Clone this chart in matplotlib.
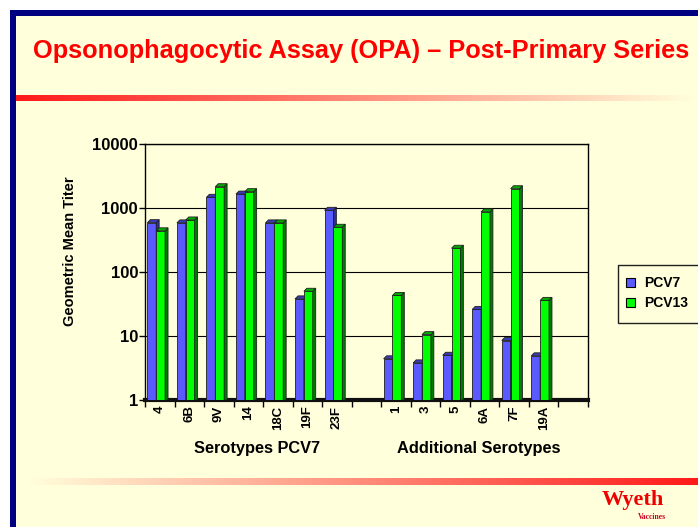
import numpy as np
import matplotlib
matplotlib.use('Agg')
import matplotlib.pyplot as plt
from matplotlib.patches import Polygon, Rectangle

# data (geometric mean titers)
serotypes = ['4', '6B', '9V', '14', '18C', '19F', '23F', '',
             '1', '3', '5', '6A', '7F', '19A', '']
pcv7 = [590, 585, 1470, 1650, 585, 38, 920, None,
        4.4, 3.8, 5.0, 26, 8.5, 4.9, None]
pcv13 = [440, 650, 2150, 1800, 585, 50, 500, None,
         43, 10.5, 235, 870, 2000, 36, None]
group_labels = ['Serotypes PCV7', 'Additional Serotypes']

W, H = 698, 527
bg = '#FFFFDC'
navy = '#000080'

plt.rcParams['font.family'] = ['Liberation Sans', 'DejaVu Sans']
fig = plt.figure(figsize=(W / 100, H / 100), dpi=100)
fig.patch.set_facecolor('white')

# slide background + navy frame
fig.patches.append(Rectangle((10 / W, 0), 1, 1 - 10 / H, transform=fig.transFigure,
                             facecolor=navy, edgecolor='none', zorder=-10))
fig.patches.append(Rectangle((16 / W, 0), 1, 1 - 16 / H, transform=fig.transFigure,
                             facecolor=bg, edgecolor='none', zorder=-9))

fig.text(0.518, 1 - 51 / H, 'Opsonophagocytic Assay (OPA) \u2013 Post-Primary Series',
         color='#FF0000', fontsize=18.3, fontweight='bold', ha='center', va='center')

# gradient bars
def grad_bar(x0, x1, y0, y1, reverse=False):
    gax = fig.add_axes([x0 / W, 1 - y1 / H, (x1 - x0) / W, (y1 - y0) / H])
    t = np.linspace(0, 1, 256)
    if reverse:
        t = t[::-1]
    start = np.array([1.0, 0.1, 0.1])
    end = np.array([1.0, 1.0, 0.86])
    cols = start[None, :] * (1 - t[:, None]) + end[None, :] * t[:, None]
    gax.imshow(cols[None, :, :], aspect='auto', extent=[0, 1, 0, 1])
    gax.axis('off')

grad_bar(16, 698, 95, 101)
grad_bar(27, 698, 478, 485, reverse=True)

# chart
ax = fig.add_axes([145 / W, 1 - 400 / H, (588 - 145) / W, (400 - 144) / H])
ax.set_facecolor(bg)
ax.set_yscale('log')
ax.set_ylim(1, 10000)
n = len(serotypes)
ax.set_xlim(0, n)
x = np.arange(n) + 0.5

bw = 0.30
dx = 0.10
k = 10 ** (3 / 63.8)

def bar3d(xl, v, front, side, top):
    xr = xl + bw
    ax.add_patch(Polygon([(xl, 1), (xr, 1), (xr, v), (xl, v)], closed=True,
                         facecolor=front, edgecolor='#202020', lw=0.6, zorder=3))
    ax.add_patch(Polygon([(xr, 1), (xr + dx, 1), (xr + dx, v * k), (xr, v)], closed=True,
                         facecolor=side, edgecolor='#202020', lw=0.6, zorder=3))
    ax.add_patch(Polygon([(xl, v), (xr, v), (xr + dx, v * k), (xl + dx, v * k)], closed=True,
                         facecolor=top, edgecolor='#202020', lw=0.6, zorder=3))

for xi, a, b in zip(x, pcv7, pcv13):
    if a is not None:
        bar3d(xi - 0.42, a, '#5A5AFF', '#2E2E99', '#3A3AB8')
    if b is not None:
        bar3d(xi - 0.12, b, '#00FF00', '#007A00', '#00A800')

ax.set_yticks([1, 10, 100, 1000, 10000])
ax.set_yticklabels(['1', '10', '100', '1000', '10000'], fontsize=12, fontweight='bold')
ax.yaxis.set_minor_locator(matplotlib.ticker.NullLocator())
ax.grid(axis='y', which='major', color='black', lw=0.8, zorder=1)
ax.tick_params(axis='y', length=4, width=1, pad=1)

ax.set_xticks(x)
ax.set_xticklabels(serotypes, rotation=90, fontsize=9.5, fontweight='bold')
ax.tick_params(axis='x', length=0, pad=4)
ax.set_xticks(np.arange(n + 1), minor=True)
ax.tick_params(axis='x', which='minor', length=5, width=1)

for s in ['top', 'right', 'left']:
    ax.spines[s].set_linewidth(1)
ax.spines['bottom'].set_linewidth(3)
ax.spines['bottom'].set_color('#101010')

fig.text(70 / W, 1 - 251 / H, 'Geometric Mean Titer', fontsize=10.5, fontweight='bold',
         rotation=90, ha='center', va='center')

fig.text(257 / W, 1 - 448 / H, group_labels[0], fontsize=11.8, fontweight='bold',
         ha='center', va='center')
fig.text(479 / W, 1 - 448 / H, group_labels[1], fontsize=11.8, fontweight='bold',
         ha='center', va='center')

# legend
fig.patches.append(Rectangle((618 / W, 1 - 323 / H), 100 / W, 58 / H, transform=fig.transFigure,
                             facecolor=bg, edgecolor='#202020', lw=1, zorder=2))
for yy, col, lab in [(283, '#5A5AFF', 'PCV7'), (303, '#00FF00', 'PCV13')]:
    fig.patches.append(Rectangle((626 / W, 1 - (yy + 4) / H), 9 / W, 9 / H,
                                 transform=fig.transFigure, facecolor=col,
                                 edgecolor='black', lw=0.8, zorder=3))
    fig.text(644 / W, 1 - yy / H, lab, fontsize=10, fontweight='bold', va='center', zorder=4)

# logo
fig.text(633 / W, 1 - 500 / H, 'Wyeth', family='Liberation Serif', fontsize=16,
         fontweight='bold', color='#EE0000', ha='center', va='center')
fig.text(652 / W, 1 - 517 / H, 'Vaccines', family='Liberation Serif', fontsize=5.5,
         fontweight='bold', color='#CC0022', ha='center', va='center')

fig.savefig('out.png', dpi=100, facecolor=fig.get_facecolor())
